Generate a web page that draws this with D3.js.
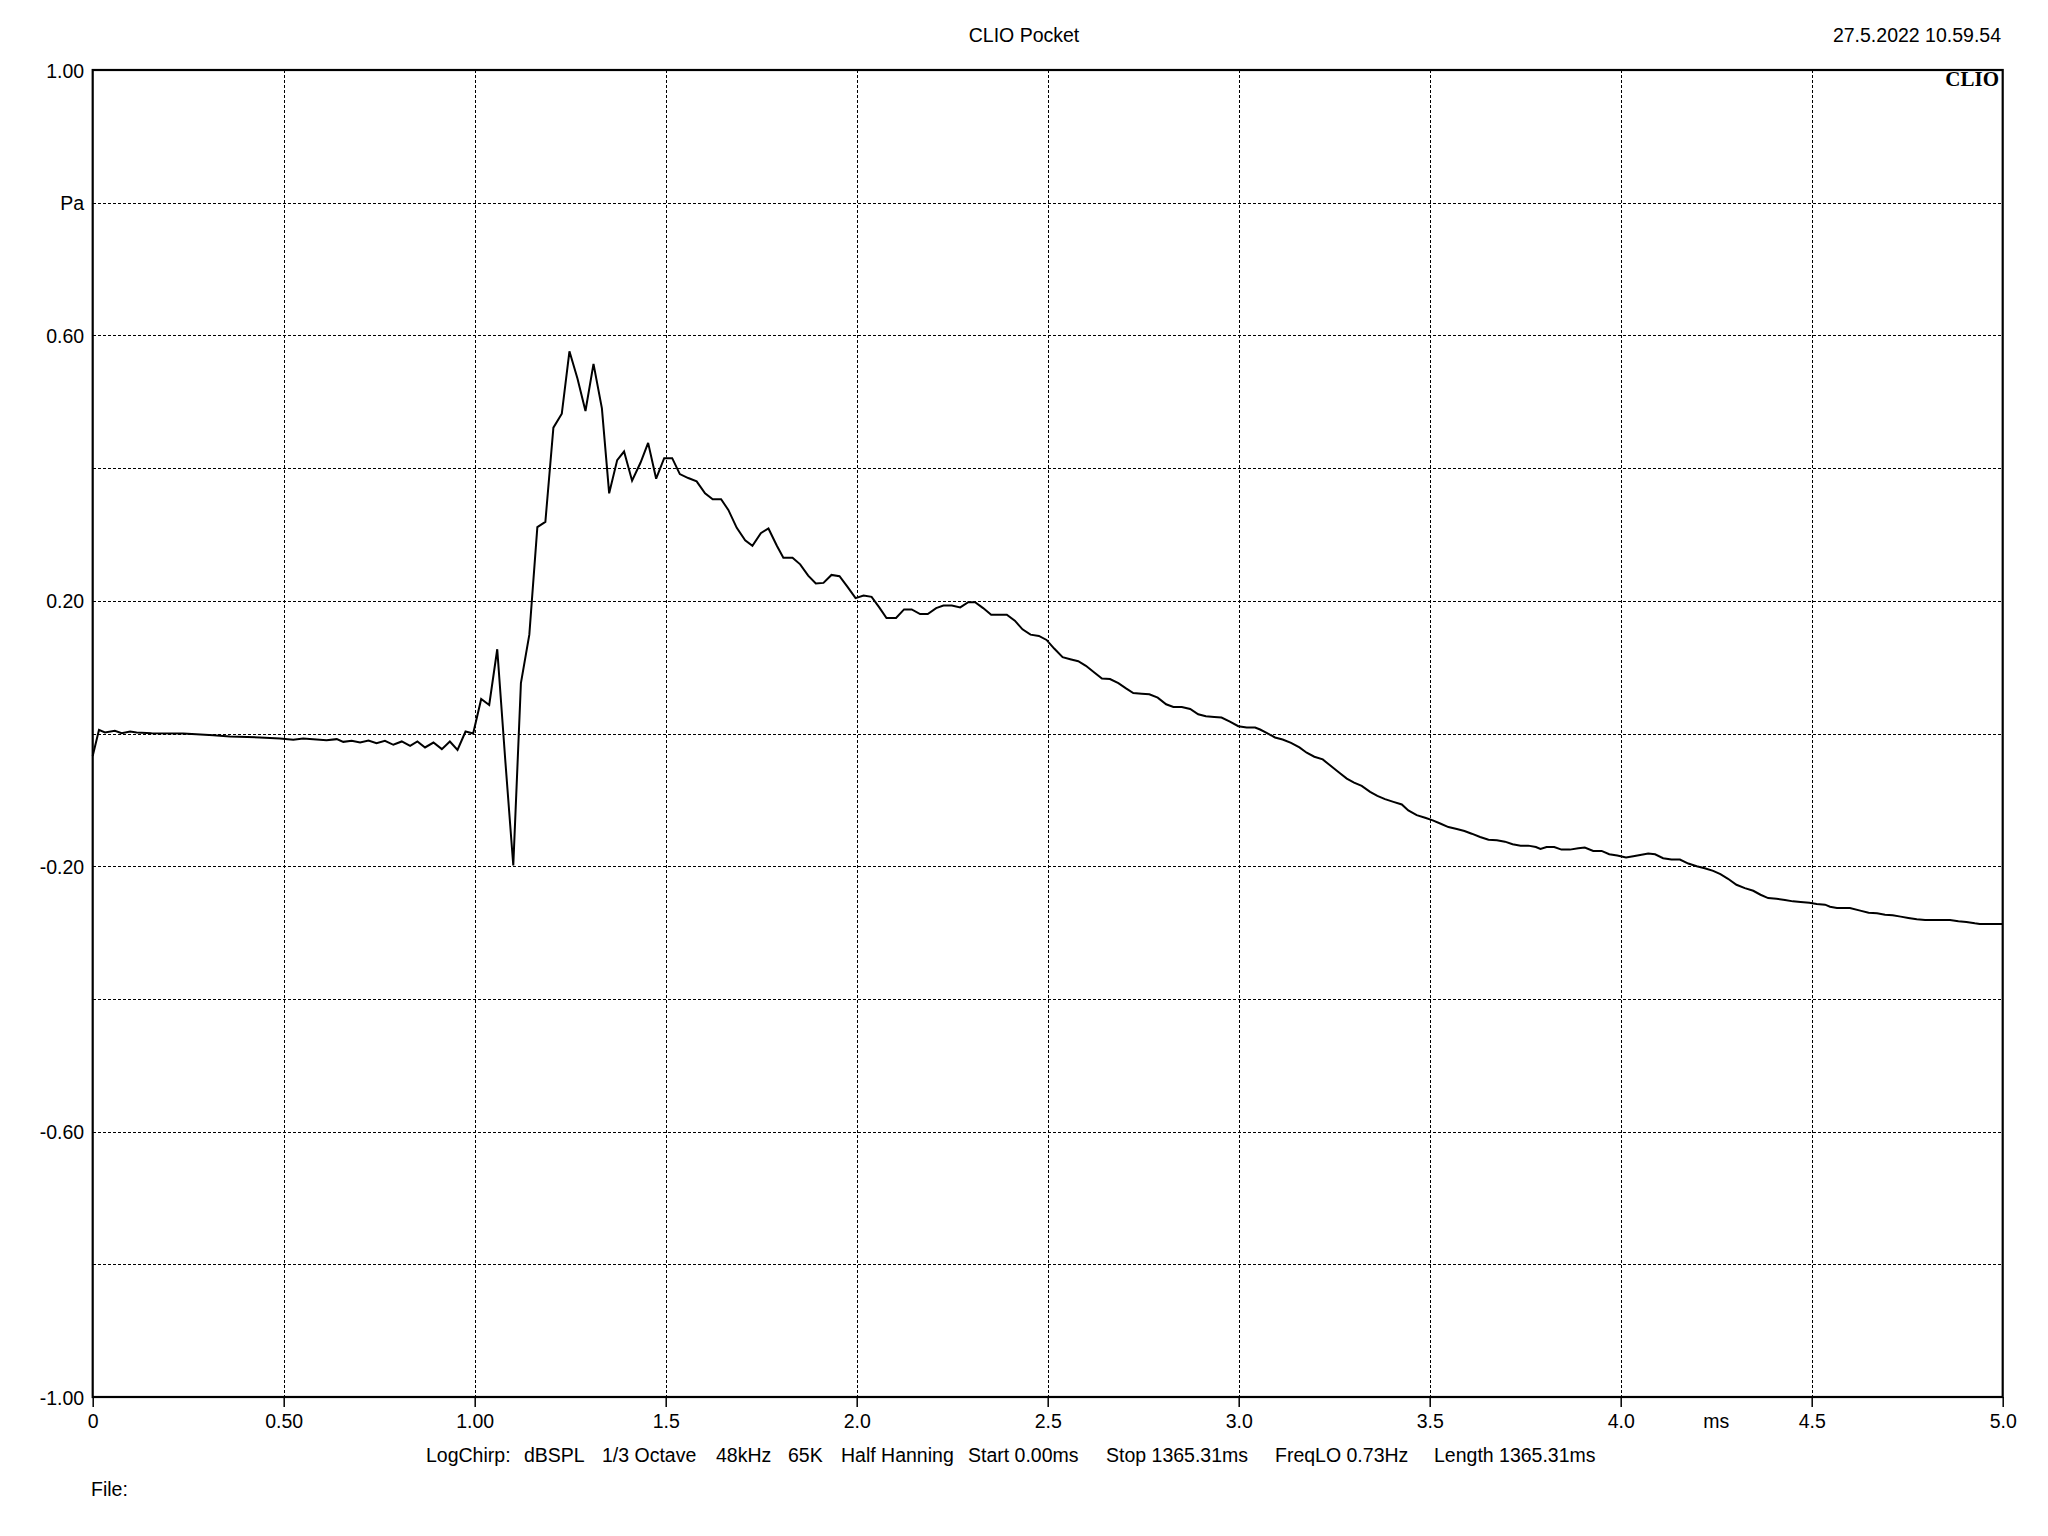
<!DOCTYPE html>
<html>
<head>
<meta charset="utf-8">
<script src="https://cdn.jsdelivr.net/npm/d3@7"></script>
<style>
  html, body { margin: 0; padding: 0; background: #fff; }
  svg { display: block; }
  text { font-family: "Liberation Sans", Arial, sans-serif; fill: #000; }
</style>
</head>
<body>
<svg id="chart" width="2048" height="1536"></svg>
<script>
// ---- data (time in ms, pressure in Pa) ----
const timeMs = [
  0.000, 0.0165, 0.032, 0.058, 0.076, 0.098, 0.115, 0.154, 0.237, 0.316, 0.359, 0.438, 0.490, 0.525, 0.551,
  0.612, 0.639, 0.656, 0.678, 0.700, 0.722, 0.743, 0.765, 0.787, 0.809, 0.831, 0.850, 0.870, 0.892, 0.914,
  0.935, 0.955, 0.976, 0.996, 1.017, 1.038, 1.059, 1.080, 1.101, 1.121, 1.143, 1.164, 1.185, 1.206, 1.228,
  1.248, 1.269, 1.290, 1.311, 1.333, 1.352, 1.373, 1.391, 1.412, 1.434, 1.454, 1.475, 1.496, 1.517, 1.537,
  1.559, 1.581, 1.603, 1.623, 1.645, 1.664, 1.686, 1.708, 1.727, 1.749, 1.769, 1.791,
  1.808, 1.832, 1.852, 1.873, 1.893, 1.913, 1.934, 1.955, 1.976, 1.997, 2.018, 2.039, 2.059, 2.078, 2.103,
  2.124, 2.144, 2.166, 2.186, 2.208, 2.227, 2.249, 2.271, 2.292, 2.310, 2.331, 2.352, 2.373, 2.393, 2.414,
  2.434, 2.455, 2.477, 2.497, 2.517, 2.539, 2.559, 2.580, 2.600, 2.622, 2.642, 2.663, 2.685, 2.705, 2.724,
  2.746, 2.766, 2.788, 2.810, 2.829, 2.851, 2.873, 2.894, 2.914, 2.936, 2.955, 2.977, 2.999, 3.021, 3.043,
  3.056, 3.073, 3.095, 3.115, 3.137, 3.159, 3.178, 3.198, 3.220, 3.239, 3.261, 3.283, 3.302, 3.322, 3.344,
  3.363, 3.383, 3.405, 3.427, 3.444, 3.466, 3.488, 3.508, 3.529, 3.549, 3.571, 3.591, 3.610, 3.632, 3.654,
  3.676, 3.697, 3.717, 3.738, 3.758, 3.778, 3.790, 3.806, 3.826, 3.845, 3.867, 3.889, 3.906, 3.928, 3.950,
  3.970, 3.991, 4.014, 4.033,
  4.051, 4.072, 4.090, 4.111, 4.133, 4.155, 4.177, 4.199, 4.220, 4.242, 4.261, 4.281, 4.303, 4.325, 4.347,
  4.366, 4.386, 4.408, 4.430, 4.451, 4.471, 4.494, 4.513, 4.535, 4.548, 4.566, 4.588, 4.600, 4.627, 4.649,
  4.671, 4.692, 4.712, 4.733, 4.753, 4.775, 4.797, 4.818, 4.840, 4.862, 4.884, 4.905, 4.927, 4.940, 4.967,
  5.000
];
const pressurePa = [
  -0.034, 0.0055, 0.0015, 0.004, 0.0005, 0.003, 0.0015, 0.0005, 0.000, -0.0025, -0.0045, -0.006, -0.0075, -0.0095, -0.0075,
  -0.010, -0.0085, -0.0126, -0.011, -0.0136, -0.0106, -0.0146, -0.011, -0.017, -0.012, -0.0186, -0.012, -0.021, -0.0136, -0.0236,
  -0.012, -0.0246, 0.003, 0.000, 0.052, 0.043, 0.127, -0.040, -0.199, 0.076, 0.149, 0.311, 0.319, 0.461, 0.482,
  0.576, 0.535, 0.486, 0.557, 0.490, 0.362, 0.412, 0.425, 0.381, 0.408, 0.438, 0.384, 0.415, 0.415, 0.391,
  0.385, 0.380, 0.362, 0.353, 0.353, 0.337, 0.310, 0.291, 0.283, 0.302, 0.309, 0.283,
  0.265, 0.265, 0.255, 0.238, 0.226, 0.227, 0.239, 0.237, 0.221, 0.204, 0.208, 0.206, 0.190, 0.174, 0.174,
  0.187, 0.187, 0.180, 0.180, 0.189, 0.193, 0.193, 0.190, 0.198, 0.198, 0.189, 0.179, 0.179, 0.179, 0.170,
  0.157, 0.149, 0.147, 0.141, 0.128, 0.115, 0.112, 0.109, 0.102, 0.092, 0.083, 0.082, 0.076, 0.068, 0.061,
  0.060, 0.059, 0.054, 0.044, 0.040, 0.040, 0.037, 0.029, 0.026, 0.025, 0.024, 0.018, 0.011, 0.009, 0.009,
  0.006, 0.001, -0.006, -0.009, -0.014, -0.021, -0.029, -0.035, -0.039, -0.048, -0.058, -0.068, -0.074, -0.079, -0.088,
  -0.094, -0.099, -0.103, -0.107, -0.116, -0.123, -0.127, -0.131, -0.136, -0.141, -0.144, -0.147, -0.151, -0.156, -0.160,
  -0.161, -0.163, -0.167, -0.169, -0.169, -0.171, -0.174, -0.171, -0.171, -0.175, -0.175, -0.173, -0.172, -0.177, -0.177,
  -0.182, -0.184, -0.187, -0.185,
  -0.183, -0.181, -0.182, -0.188, -0.190, -0.190, -0.196, -0.200, -0.203, -0.207, -0.212, -0.219, -0.228, -0.233, -0.237,
  -0.243, -0.248, -0.249, -0.251, -0.253, -0.254, -0.255, -0.257, -0.258, -0.261, -0.263, -0.263, -0.263, -0.267, -0.270,
  -0.271, -0.273, -0.274, -0.276, -0.278, -0.280, -0.281, -0.281, -0.281, -0.281, -0.283, -0.284, -0.286, -0.287, -0.287,
  -0.287
];

const xTickValues = [0, 0.5, 1.0, 1.5, 2.0, 2.5, 3.0, 3.5, 4.0, 4.5, 5.0];
const xTickLabels = ["0", "0.50", "1.00", "1.5", "2.0", "2.5", "3.0", "3.5", "4.0", "4.5", "5.0"];
const xGridValues = [0.5, 1.0, 1.5, 2.0, 2.5, 3.0, 3.5, 4.0, 4.5];
const yTickValues = [1.0, 0.8, 0.6, 0.2, -0.2, -0.6, -1.0];
const yTickLabels = ["1.00", "Pa", "0.60", "0.20", "-0.20", "-0.60", "-1.00"];
const yGridValues = [0.8, 0.6, 0.4, 0.2, 0.0, -0.2, -0.4, -0.6, -0.8];
const xUnit = "ms";
const xUnitAt = 4.25;
const titleText = "CLIO Pocket";
const dateText = "27.5.2022 10.59.54";
const logoText = "CLIO";
const infoItems = ["LogChirp:", "dBSPL", "1/3 Octave", "48kHz", "65K", "Half Hanning",
  "Start 0.00ms", "Stop 1365.31ms", "FreqLO 0.73Hz", "Length 1365.31ms"];
const infoX = [426, 524, 602, 716, 788, 841, 968, 1106, 1275, 1434];
const fileText = "File:";

// ---- layout ----
const L = 92.7, R = 2002.7, T = 70, B = 1397;
const svg = d3.select("#chart");
svg.append("rect").attr("width", 2048).attr("height", 1536).attr("fill", "#fff");

const x = d3.scaleLinear().domain([0, 5]).range([L, R]);
const y = d3.scaleLinear().domain([-1, 1]).range([B, T]);

// gridlines
const grid = svg.append("g").attr("stroke", "#000").attr("stroke-width", 1)
  .attr("stroke-dasharray", "3,2").attr("shape-rendering", "crispEdges");
grid.selectAll("line.v").data(xGridValues).join("line").attr("class", "v")
  .attr("x1", d => Math.round(x(d)) + 0.5).attr("x2", d => Math.round(x(d)) + 0.5)
  .attr("y1", T).attr("y2", B);
grid.selectAll("line.h").data(yGridValues).join("line").attr("class", "h")
  .attr("x1", L).attr("x2", R)
  .attr("y1", d => Math.round(y(d)) + 0.5).attr("y2", d => Math.round(y(d)) + 0.5);

// x axis
const xAxis = d3.axisBottom(x).tickValues(xTickValues)
  .tickFormat((d, i) => xTickLabels[i]).tickSize(10).tickPadding(7);
const gx = svg.append("g").attr("transform", `translate(0,${B})`).call(xAxis);
gx.select(".domain").remove();
gx.selectAll(".tick line").attr("stroke", "#000").attr("stroke-width", 1.5);
gx.selectAll("text").attr("font-size", 19.5).attr("font-family", null);

// y axis
const yAxis = d3.axisLeft(y).tickValues(yTickValues)
  .tickFormat((d, i) => yTickLabels[i]).tickSize(0).tickPadding(8.5);
const gy = svg.append("g").attr("transform", `translate(${L},0)`).call(yAxis);
gy.select(".domain").remove();
gy.selectAll("text").attr("font-size", 19.5).attr("font-family", null).attr("dy", "0.36em");

// unit label
svg.append("text").attr("x", x(xUnitAt)).attr("y", 1428).attr("text-anchor", "middle")
  .attr("font-size", 19.5).text(xUnit);

// frame
svg.append("rect").attr("x", L).attr("y", T).attr("width", R - L).attr("height", B - T)
  .attr("fill", "none").attr("stroke", "#000").attr("stroke-width", 2.2);

// curve
const pts = timeMs.map((t, i) => [t, pressurePa[i]]);
const line = d3.line().x(d => x(d[0])).y(d => y(d[1]));
svg.append("path").datum(pts).attr("d", line).attr("fill", "none")
  .attr("stroke", "#000").attr("stroke-width", 2).attr("stroke-linejoin", "miter")
  .attr("stroke-miterlimit", 3);

// header texts
svg.append("text").attr("x", 1024).attr("y", 42).attr("text-anchor", "middle")
  .attr("font-size", 19.5).text(titleText);
svg.append("text").attr("x", 2001).attr("y", 42).attr("text-anchor", "end")
  .attr("font-size", 19.5).text(dateText);
svg.append("text").attr("x", 1999).attr("y", 86).attr("text-anchor", "end")
  .attr("font-size", 21).attr("font-weight", "bold")
  .style("font-family", "'Liberation Serif', 'DejaVu Serif', serif").text(logoText);

// info line
svg.append("g").selectAll("text").data(infoItems).join("text")
  .attr("x", (d, i) => infoX[i]).attr("y", 1462).attr("font-size", 19.5).text(d => d);
svg.append("text").attr("x", 91).attr("y", 1496).attr("font-size", 19.5).text(fileText);
</script>
</body>
</html>
